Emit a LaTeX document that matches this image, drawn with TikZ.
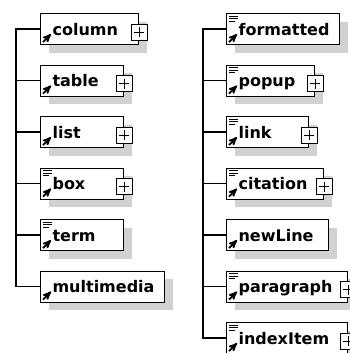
\documentclass[tikz,border=0pt]{standalone}
\usepackage{fontspec}
\setmainfont{DejaVu Sans}
\usetikzlibrary{arrows,positioning,shadows}
\tikzset{elem/.style={draw=black, fill=white, line width=1.1pt,
    minimum height=31pt, inner xsep=12pt, inner ysep=0pt,
    text height=12pt, text depth=0pt,
    execute at begin node={\hbox to #1\bgroup},
    execute at end node={\hfil\egroup},
    copy shadow={shadow xshift=8pt, shadow yshift=-8pt, draw=none, fill=black!18}}}

\begin{document}
\begin{tikzpicture}[x=1pt,y=1pt,->,>=stealth',node distance=19.4pt,
                    every node/.style={font=\bfseries\fontsize{16}{17}\selectfont}]
  \tikzstyle{expand}=[draw=black, fill=white, line width=1pt, minimum size=16pt,
                      inner sep=0pt, path picture={
                        \draw[-] ([xshift=3pt]path picture bounding box.west)
                          -- ([xshift=-3pt]path picture bounding box.east);
                        \draw[-] ([yshift=-3pt]path picture bounding box.north)
                          -- ([yshift=3pt]path picture bounding box.south);}]
  \tikzstyle{wire}=[-, line width=1.3pt]

  \useasboundingbox (0,0) rectangle (350,-353);

  % left column
  \node[elem=74pt, anchor=north west] (COL) at (40,-13) {column};
  \node[elem=59pt, below=of COL.south west, anchor=north west] (TAB) {table};
  \node[elem=59pt, below=of TAB.south west, anchor=north west] (LST) {list};
  \node[elem=59pt, below=of LST.south west, anchor=north west] (BOX) {box};
  \node[elem=59pt, below=of BOX.south west, anchor=north west] (TRM) {term};
  \node[elem=100pt, below=of TRM.south west, anchor=north west] (MM) {multimedia};

  % right column
  \node[elem=89pt, right=186pt of COL.north west, anchor=north west] (FMT) {formatted};
  \node[elem=64pt, below=of FMT.south west, anchor=north west] (POP) {popup};
  \node[elem=58pt, below=of POP.south west, anchor=north west] (LNK) {link};
  \node[elem=73pt, below=of LNK.south west, anchor=north west] (CIT) {citation};
  \node[elem=78pt, below=of CIT.south west, anchor=north west] (NL) {newLine};
  \node[elem=97pt, below=of NL.south west, anchor=north west] (PAR) {paragraph};
  \node[elem=97pt, below=of PAR.south west, anchor=north west] (IDX) {indexItem};

  % sequence bars
  \coordinate (LBUS) at ([xshift=-24pt]COL.west);
  \coordinate (RBUS) at ([xshift=-23pt]FMT.west);
  \draw[wire] (COL.west) -- (LBUS) |- (MM.west);
  \foreach \n in {TAB,LST,BOX,TRM}
    \draw[wire] (LBUS |- \n.west) -- (\n.west);
  \draw[wire] (FMT.west) -- (RBUS) |- (IDX.west);
  \foreach \n in {POP,LNK,CIT,NL,PAR}
    \draw[wire] (RBUS |- \n.west) -- (\n.west);

  % expand buttons
  \foreach \n in {COL,TAB,LST,BOX,POP,LNK,CIT,PAR,IDX}
    \node[expand] (\n x) at ([yshift=-3pt]\n.east) {};

  % reference arrows and documentation marks
  \foreach \n in {COL,TAB,LST,BOX,TRM,MM,FMT,POP,LNK,CIT,NL,PAR,IDX}
    \draw[line width=1.8pt] ([shift={(3pt,3pt)}]\n.south west) -- ++(8pt,8pt);
  \foreach \n in {BOX,TRM,FMT,POP,LNK,CIT,PAR,IDX}
    \foreach \y/\l in {3/9,5.5/9,8/6}
      \draw[-, line width=0.8pt] ([shift={(3pt,-\y pt)}]\n.north west) -- ++(\l pt,0);
\end{tikzpicture}
\end{document}
